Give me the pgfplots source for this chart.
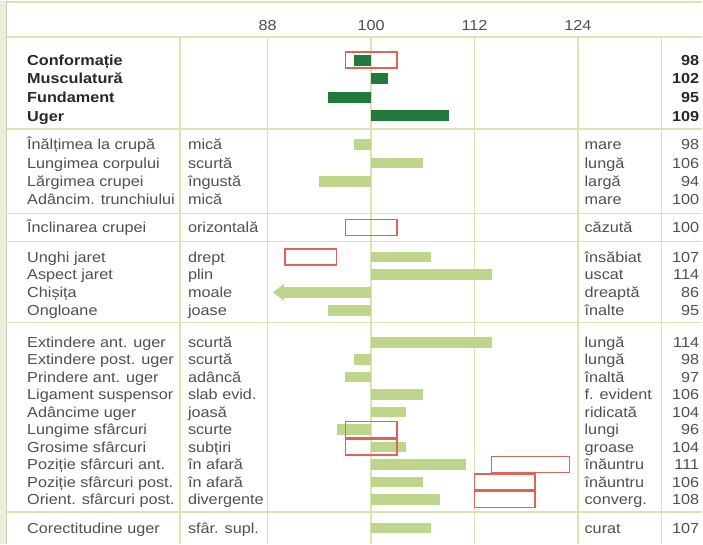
\documentclass[border=0pt]{standalone}
\usepackage{fontspec}
\setmainfont{Liberation Sans}[FakeStretch=1.12]
\usepackage{pgfplots}
\pgfplotsset{compat=1.18}
\usepackage{pgfplotstable}
\usetikzlibrary{arrows.meta}

\definecolor{darkg}{RGB}{33,122,60}
\definecolor{lightg}{RGB}{190,214,140}
\definecolor{gridc}{RGB}{220,228,180}
\definecolor{boxred}{RGB}{222,100,88}
\definecolor{txtc}{RGB}{80,80,80}
\definecolor{boldc}{RGB}{40,40,40}
\definecolor{stripc}{RGB}{240,236,218}
\definecolor{stripl}{RGB}{205,205,190}

% y = row position (px from top), v = breeding value
\pgfplotstableread[col sep=comma]{
y,trait,v
59.5,Conformație,98
78,Musculatură,102
97,Fundament,95
115.5,Uger,109
}\maintraits

\pgfplotstableread[col sep=comma]{
y,trait,low,high,v
144,Înălțimea la crupă,mică,mare,98
162.5,Lungimea corpului,scurtă,lungă,106
181,Lărgimea crupei,îngustă,largă,94
199,Adâncim. trunchiului,mică,mare,100
227,Înclinarea crupei,orizontală,căzută,100
256.5,Unghi jaret,drept,însăbiat,107
274,Aspect jaret,plin,uscat,114
292,Chișița,moale,dreaptă,86
310,Ongloane,joase,înalte,95
342,Extindere ant. uger,scurtă,lungă,114
359.5,Extindere post. uger,scurtă,lungă,98
377,Prindere ant. uger,adâncă,înaltă,97
394.5,Ligament suspensor,slab evid.,f. evident,106
412,Adâncime uger,joasă,ridicată,104
429.5,Lungime sfârcuri,scurte,lungi,96
447,Grosime sfârcuri,subțiri,groase,104
464.5,Poziție sfârcuri ant.,în afară,înăuntru,111
482,Poziție sfârcuri post.,în afară,înăuntru,106
499.5,Orient. sfârcuri post.,divergente,converg.,108
528,Corectitudine uger,sfâr. supl.,curat,107
}\traits

% red outlined boxes: desired range
\pgfplotstableread[col sep=comma]{
y,lo,hi
59.5,97,103
227,97,103
256.5,90,96
429.5,97,103
447,97,103
464.5,114,123
482,112,119
499.5,112,119
}\boxes

\pgfplotsset{
  txt/.style={draw=none, mark=none, nodes near coords, point meta=explicit symbolic,
    every node near coord/.append style={inner sep=0pt, yshift=-5.2pt,
      font=\fontsize{14.5}{17}\selectfont, text=txtc}},
}

\begin{document}
\begin{tikzpicture}
\begin{axis}[
  width=703pt, height=544pt, scale only axis,
  xmin=56.928, xmax=138.435, ymin=0, ymax=544, y dir=reverse,
  hide axis, clip=false,
]
\fill[white] (rel axis cs:0,0) rectangle (rel axis cs:1,1);
\fill[stripc] (axis cs:56.928,0) rectangle (axis cs:57.6,544);
\draw[stripl, line width=1.2pt] (axis cs:57.68,0) -- (axis cs:57.68,544);
\fill[gridc] (axis cs:57.75,0) rectangle (axis cs:138.435,2.6);
\pgfplotsinvokeforeach{36.5,128.5,213,241,322.5,512}{
  \draw[gridc, line width=1.4pt] (axis cs:57.75,#1) -- (axis cs:138.435,#1);
}
\pgfplotsinvokeforeach{77.797,88,100,112,124,133.681}{
  \draw[gridc, line width=1.4pt] (axis cs:#1,36.5) -- (axis cs:#1,544);
}

% bars from 100
\addplot[darkg, line width=11pt, quiver={u=\thisrow{v}-100, v=0}]
  table[x expr=100, y=y] {\maintraits};
\addplot[lightg, line width=10.5pt, quiver={u=\thisrow{v}-100, v=0}]
  table[x expr={\thisrow{v}<88 ? nan : 100}, y=y] {\traits};
% below the scale: arrow to its edge
\addplot[lightg, line width=10.5pt, -{Triangle[length=11pt,width=16pt]},
  quiver={u=88.6-100, v=0}]
  table[x expr={\thisrow{v}<88 ? 100 : nan}, y=y] {\traits};

% boxes lo..hi
\addplot[xbar, bar width=16pt, bar shift=0pt, stack plots=x, draw=none, fill=none, forget plot]
  table[x=lo, y=y] {\boxes};
\addplot[xbar, bar width=16pt, bar shift=0pt, stack plots=x, draw=boxred, fill=none, line width=1.4pt]
  table[x expr=\thisrow{hi}-\thisrow{lo}, y=y] {\boxes};

% header scale
\addplot[txt, every node near coord/.append style={anchor=base}]
  coordinates {(88,25) [88] (100,25) [100] (112,25) [112] (124,25) [124]};

% texts
\addplot[txt, every node near coord/.append style={anchor=base west,
  font=\fontsize{14.5}{17}\selectfont\bfseries, text=boldc}]
  table[x expr=60.06, y=y, meta=trait] {\maintraits};
\addplot[txt, every node near coord/.append style={anchor=base east,
  font=\fontsize{14.5}{17}\selectfont\bfseries, text=boldc}]
  table[x expr=138.087, y=y, meta=v] {\maintraits};
\addplot[txt, every node near coord/.append style={anchor=base west}]
  table[x expr=60.06, y=y, meta=trait] {\traits};
\addplot[txt, every node near coord/.append style={anchor=base west}]
  table[x expr=78.725, y=y, meta=low] {\traits};
\addplot[txt, every node near coord/.append style={anchor=base west}]
  table[x expr=124.754, y=y, meta=high] {\traits};
\addplot[txt, every node near coord/.append style={anchor=base east}]
  table[x expr=138.087, y=y, meta=v] {\traits};
\end{axis}
\end{tikzpicture}
\end{document}
